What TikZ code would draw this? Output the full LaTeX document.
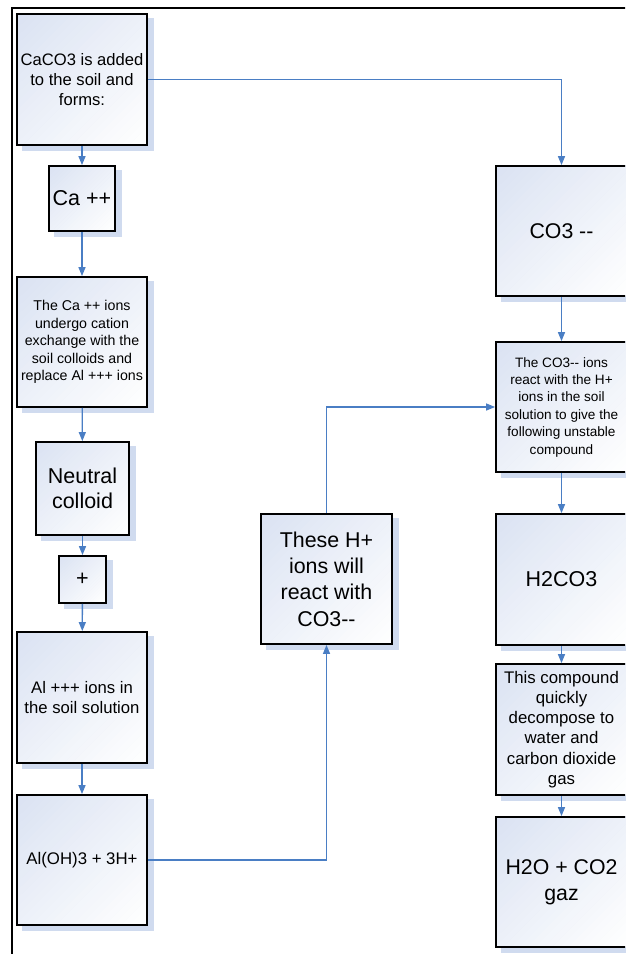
\documentclass[tikz,border=0pt]{standalone}
\usepackage{fontspec}
\setmainfont{Liberation Sans}
\usetikzlibrary{arrows.meta,backgrounds,calc}
\definecolor{linkblue}{HTML}{4A7EC4}
\definecolor{shadeblue}{HTML}{D0DBEF}
\definecolor{fillblue}{HTML}{DAE2F2}
\newcommand\dd{\mbox{-}\mbox{-}}
% diagonal fill inside a box: blue at the upper left, white at the lower right
% #1 = node name, #2 = width + height of the box
\newcommand\gradfill[2]{%
  \begin{scope}
    \clip (#1.north west) rectangle (#1.south east);
    \foreach \k in {0,...,31}{
      \pgfmathsetmacro\gA{#2*\k/32}
      \pgfmathsetmacro\gB{#2*(\k+1)/32+0.6}
      \pgfmathsetmacro\gC{100*(1-(\k+0.5)/32)}
      \fill[fillblue!\gC!white]
        ([shift={(\gA,0)}]#1.north west) -- ([shift={(\gB,0)}]#1.north west)
        -- ([shift={(\gB-400,400)}]#1.north west)
        -- ([shift={(\gA-400,400)}]#1.north west) -- cycle;
    }
  \end{scope}}
\tikzset{
  stepbox/.style={draw=black, line width=1.8pt, rectangle, inner sep=0pt, align=center},
  boxshadow/.style={fill=shadeblue},
  link/.style={draw=linkblue, line width=1.3pt, -{Triangle[length=9pt,width=7pt]}},
  frame/.style={draw=black, line width=2pt},
}
\begin{document}
\begin{tikzpicture}[x=1pt, y=-1pt]
\useasboundingbox (0,0) rectangle (625,954);
\clip (0,0) rectangle (625,954);

% left column
\node[stepbox, minimum width=130pt, minimum height=131pt, font=\fontsize{16.6}{20}\selectfont]
  (caco) at (82,79.5) {CaCO3 is added\\to the soil and\\forms:};
\node[stepbox, minimum width=66pt, minimum height=65pt, font=\fontsize{21.5}{25}\selectfont]
  (ca) at (82,198.5) {Ca ++};
\node[stepbox, minimum width=130pt, minimum height=130pt, font=\fontsize{14.2}{17.6}\selectfont]
  (exch) at (82,342) {The Ca ++ ions\\undergo cation\\exchange with the\\soil colloids and\\replace Al +++ ions};
\node[stepbox, minimum width=93pt, minimum height=93pt, font=\fontsize{21.5}{25}\selectfont]
  (neutral) at (82.5,488.5) {Neutral\\colloid};
\node[stepbox, minimum width=47pt, minimum height=47pt, font=\fontsize{21.5}{25}\selectfont]
  (plus) at (82.5,579.5) {+};
\node[stepbox, minimum width=130pt, minimum height=131pt, font=\fontsize{16.7}{19.6}\selectfont]
  (al) at (82,697.5) {Al +++ ions in\\the soil solution};
\node[stepbox, minimum width=130pt, minimum height=130pt, font=\fontsize{16.8}{20}\selectfont]
  (aloh) at (82,860) {Al(OH)3 + 3H+};

% middle column
\node[stepbox, minimum width=131pt, minimum height=130pt, font=\fontsize{21.4}{26.4}\selectfont]
  (hplus) at (326.5,579) {These H+\\ions will\\react with\\CO3\dd};

% right column
\node[stepbox, minimum width=131pt, minimum height=130pt, font=\fontsize{21.3}{25}\selectfont]
  (co3) at (561.5,231) {CO3 \dd};
\node[stepbox, minimum width=131pt, minimum height=130pt, font=\fontsize{13.6}{17.4}\selectfont]
  (react) at (561.5,407) {The CO3\dd{} ions\\react with the H+\\ions in the soil\\solution to give the\\following unstable\\compound};
\node[stepbox, minimum width=131pt, minimum height=131pt, font=\fontsize{21.5}{25}\selectfont]
  (hco) at (561.5,579.5) {H2CO3};
\node[stepbox, minimum width=131pt, minimum height=131pt, font=\fontsize{16.8}{20.2}\selectfont]
  (decomp) at (561.5,729.5) {This compound\\quickly\\decompose to\\water and\\carbon dioxide\\gas};
\node[stepbox, minimum width=131pt, minimum height=130pt, font=\fontsize{21.3}{26}\selectfont]
  (gas) at (561.5,882) {H2O + CO2\\gaz};

% white page, offset shadows and box fills behind the outlines
\begin{pgfonlayer}{background}
  \fill[white] (0,0) rectangle (625,954);
  \foreach \b in {caco,ca,exch,neutral,plus,al,aloh,hplus,co3,react,hco,decomp,gas}{
    \fill[boxshadow] ($(\b.north west)+(6,5)$) rectangle ($(\b.south east)+(6,5)$);
  }
  \foreach \b/\s in {caco/261,ca/131,exch/260,neutral/186,plus/94,al/261,aloh/260,hplus/261,co3/261,react/261,hco/262,decomp/262,gas/261}{
    \gradfill{\b}{\s}
  }
\end{pgfonlayer}

% outer frame (only its top and left sides fall inside the page)
\draw[frame] (12,980) -- (12,8) -- (660,8);

% connectors
\draw[link] (caco) -- (ca);
\draw[link] (ca) -- (exch);
\draw[link] (exch) -- (neutral);
\draw[link] (neutral) -- (plus);
\draw[link] (plus) -- (al);
\draw[link] (al) -- (aloh);
\draw[link] (aloh.east) -| (hplus.south);
\draw[link] (hplus.north) |- (react.west);
\draw[link] (caco.east) -| (co3.north);
\draw[link] (co3) -- (react);
\draw[link] (react) -- (hco);
\draw[link] (hco) -- (decomp);
\draw[link] (decomp) -- (gas);
\end{tikzpicture}
\end{document}
